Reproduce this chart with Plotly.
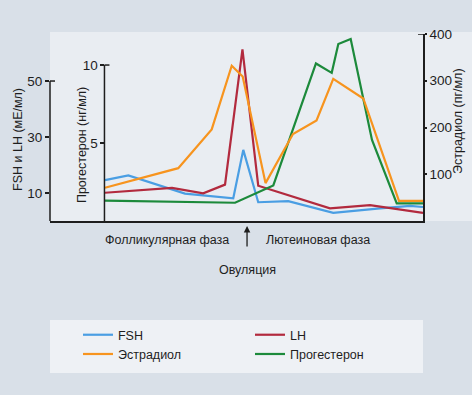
import plotly.graph_objects as go

# ---- data ----
days_fsh = [1, 2.98, 7.79, 11.89, 12.74, 14.01, 16.56, 20.38, 24.35, 26.9, 28]
fsh = [14.6, 16.3, 9.8, 8.1, 25.4, 6.7, 7.1, 2.9, 4.5, 5.4, 5.0]

days_lh = [1, 6.69, 9.34, 11.19, 12.67, 14.01, 20.1, 23.5, 28]
lh = [10.1, 11.8, 9.9, 13.0, 61.3, 12.6, 4.5, 5.7, 2.9]

days_e2 = [1, 7.22, 10.06, 11.76, 12.69, 14.63, 16.96, 18.96, 20.38, 22.93, 25.96, 28]
estradiol = [71, 113, 196, 332, 309, 81, 186, 215, 304, 262, 43, 43]

days_p4 = [1, 12.04, 15.29, 18.91, 20.25, 20.81, 21.86, 23.67, 25.77, 28]
progesterone = [1.3, 1.17, 2.28, 10.1, 9.5, 11.35, 11.67, 5.2, 1.13, 1.13]

ovulation_day = 13.06

fsh_lh_ticks = [10, 30, 50]
p4_ticks = [5, 10]
e2_ticks = [100, 200, 300, 400]

FONT = "Liberation Sans, Arial, sans-serif"
INK = "#1e1e1e"
BG = "#d9e0e8"

fig = go.Figure()
fig.add_trace(go.Scatter(x=days_fsh, y=fsh, name="FSH", yaxis="y", mode="lines",
                         line=dict(color="#4a9ee3", width=2.2)))
fig.add_trace(go.Scatter(x=days_lh, y=lh, name="LH", yaxis="y", mode="lines",
                         line=dict(color="#b22a3e", width=2.2)))
fig.add_trace(go.Scatter(x=days_e2, y=estradiol, name="Эстрадиол", yaxis="y3", mode="lines",
                         line=dict(color="#f7941e", width=2.2)))
fig.add_trace(go.Scatter(x=days_p4, y=progesterone, name="Прогестерон", yaxis="y2", mode="lines",
                         line=dict(color="#1c8a3b", width=2.2)))

tickfont = dict(family=FONT, size=13.5, color=INK)
p4_pos = 0.146
cap = 5 / 373

fig.update_layout(
    width=472, height=395,
    margin=dict(l=50, r=49, t=34, b=174, autoexpand=False),
    paper_bgcolor=BG,
    plot_bgcolor="rgba(0,0,0,0)",
    font=dict(family=FONT, size=12, color=INK),
    showlegend=True,
    xaxis=dict(range=[-3.67, 28], domain=[0, 1], showticklabels=False, ticks="",
               showgrid=False, zeroline=False, showline=True, linecolor=INK, linewidth=1.5,
               automargin=False),
    yaxis=dict(range=[0, 66.8], tickvals=fsh_lh_ticks, ticks="outside", ticklen=4,
               tickcolor=INK, tickwidth=1.5, tickfont=tickfont, showgrid=False,
               zeroline=False, showline=False, anchor="x", automargin=False),
    yaxis2=dict(range=[0, 11.99], tickvals=p4_ticks, ticks="outside", ticklen=4,
                tickcolor=INK, tickwidth=1.5, tickfont=tickfont, showgrid=False,
                zeroline=False, showline=False, overlaying="y", anchor="free",
                position=p4_pos, side="left", automargin=False),
    yaxis3=dict(range=[0, 400], tickvals=e2_ticks, ticks="outside", ticklen=2,
                tickcolor=INK, tickwidth=1.5, tickfont=tickfont, showgrid=False,
                zeroline=False, showline=True, linecolor=INK, linewidth=1.5,
                overlaying="y", anchor="x", side="right", automargin=False),
    legend=dict(orientation="h", x=0.075, xanchor="left", y=-0.53, yanchor="top",
                bgcolor="rgba(0,0,0,0)", entrywidth=127, entrywidthmode="pixels",
                font=dict(family=FONT, size=12.5, color=INK), traceorder="normal"),
)

line_style = dict(color=INK, width=1.5)
fig.update_layout(shapes=[
    # light panel behind plot
    dict(type="rect", xref="paper", yref="paper", x0=0, x1=1.1314, y0=0, y1=1.0107,
         fillcolor="#e9edf2", line=dict(width=0), layer="below"),
    # legend panel
    dict(type="rect", xref="paper", yref="paper", x0=0, x1=1, y0=-0.8128, y1=-0.5294,
         fillcolor="#eef1f5", line=dict(width=0), layer="below"),
    # FSH/LH axis line and top cap
    dict(type="line", xref="paper", yref="y", x0=0, x1=0, y0=0, y1=50, line=line_style),
    dict(type="line", xref="paper", yref="y", x0=0, x1=cap, y0=50, y1=50, line=line_style),
    # progesterone axis line and top cap
    dict(type="line", xref="paper", yref="y2", x0=p4_pos, x1=p4_pos, y0=0, y1=10, line=line_style),
    dict(type="line", xref="paper", yref="y2", x0=p4_pos, x1=p4_pos + cap, y0=10, y1=10, line=line_style),
    # estradiol top cap
    dict(type="line", xref="paper", yref="y3", x0=1 - cap, x1=1, y0=400, y1=400, line=line_style),
])

ann_font = dict(family=FONT, size=12.5, color=INK)
fig.update_layout(annotations=[
    dict(text="FSH и LH (мЕ/мл)", xref="paper", yref="paper", x=-0.0858, y=0.4385,
         textangle=-90, showarrow=False, xanchor="center", yanchor="middle", font=ann_font),
    dict(text="Прогестерон (нг/мл)", xref="paper", yref="paper", x=0.0858, y=0.406,
         textangle=-90, showarrow=False, xanchor="center", yanchor="middle", font=ann_font),
    dict(text="Эстрадиол (пг/мл)", xref="paper", yref="paper", x=1.094, y=0.535,
         textangle=-90, showarrow=False, xanchor="center", yanchor="middle", font=ann_font),
    dict(text="Фолликулярная фаза", xref="x", yref="paper", x=6.26, y=-0.1016,
         showarrow=False, xanchor="center", yanchor="middle", font=ann_font),
    dict(text="Лютеиновая фаза", xref="x", yref="paper", x=19.08, y=-0.1016,
         showarrow=False, xanchor="center", yanchor="middle", font=ann_font),
    dict(text="Овуляция", xref="x", yref="paper", x=ovulation_day, y=-0.262,
         showarrow=False, xanchor="center", yanchor="middle", font=ann_font),
    dict(text="", xref="x", yref="paper", x=ovulation_day, y=-0.0267,
         showarrow=True, ax=0, ay=22, arrowhead=2, arrowsize=1, arrowwidth=1.3,
         arrowcolor=INK),
])

fig.write_html(
    "out.html",
    config={"displayModeBar": False},
    post_script="document.body.style.margin='0';document.body.style.background='%s';" % BG,
)
